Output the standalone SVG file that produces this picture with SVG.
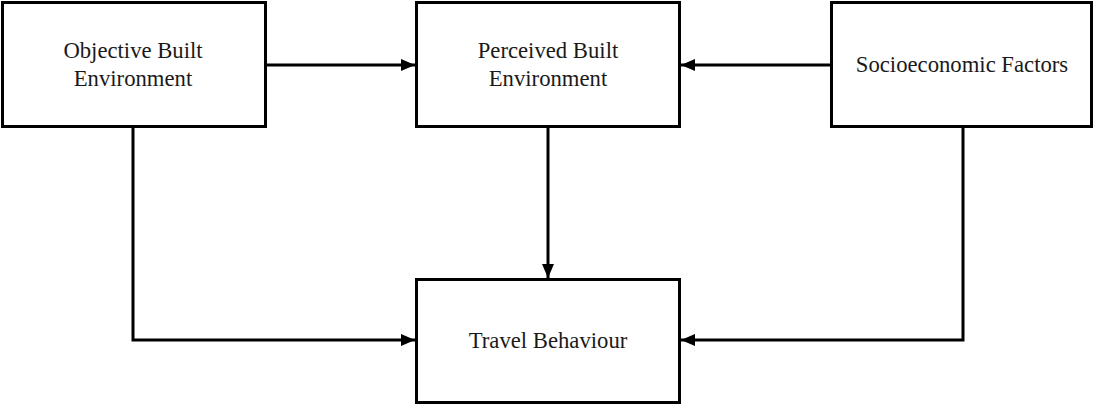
<svg xmlns="http://www.w3.org/2000/svg" width="1094" height="405" viewBox="0 0 1094 405">
<style>
.box{fill:#fff;stroke:#000;stroke-width:3}
.lbl{font-family:"Liberation Serif","Times New Roman",serif;font-size:22.7px;fill:#1a1a1a;text-anchor:middle}
.edge{fill:none;stroke:#000;stroke-width:3}
</style>
<defs>
<marker id="arr" viewBox="0 0 14 12" refX="14" refY="6" markerWidth="14" markerHeight="12" markerUnits="userSpaceOnUse" orient="auto">
<path d="M0,0 L14,6 L0,12 Z" fill="#000"/>
</marker>
</defs>
<rect width="1094" height="405" fill="#fff"/>
<g id="connectors">
<path class="edge" d="M265,65 H415" marker-end="url(#arr)"/>
<path class="edge" d="M831,65 H681" marker-end="url(#arr)"/>
<path class="edge" d="M548,126 V278" marker-end="url(#arr)"/>
<path class="edge" d="M133,126 V340 H415" marker-end="url(#arr)"/>
<path class="edge" d="M963,126 V340 H681" marker-end="url(#arr)"/>
</g>
<g id="objective">
<rect class="box" x="2.5" y="2.5" width="263" height="124"/>
<text class="lbl" x="133" y="58">Objective Built</text>
<text class="lbl" x="133" y="86">Environment</text>
</g>
<g id="perceived">
<rect class="box" x="416.5" y="2.5" width="263" height="124"/>
<text class="lbl" x="548" y="58">Perceived Built</text>
<text class="lbl" x="548" y="86">Environment</text>
</g>
<g id="socio">
<rect class="box" x="831.5" y="2.5" width="260" height="124"/>
<text class="lbl" x="962" y="72">Socioeconomic Factors</text>
</g>
<g id="travel">
<rect class="box" x="416.5" y="279.5" width="263" height="123"/>
<text class="lbl" x="548" y="348">Travel Behaviour</text>
</g>
</svg>
